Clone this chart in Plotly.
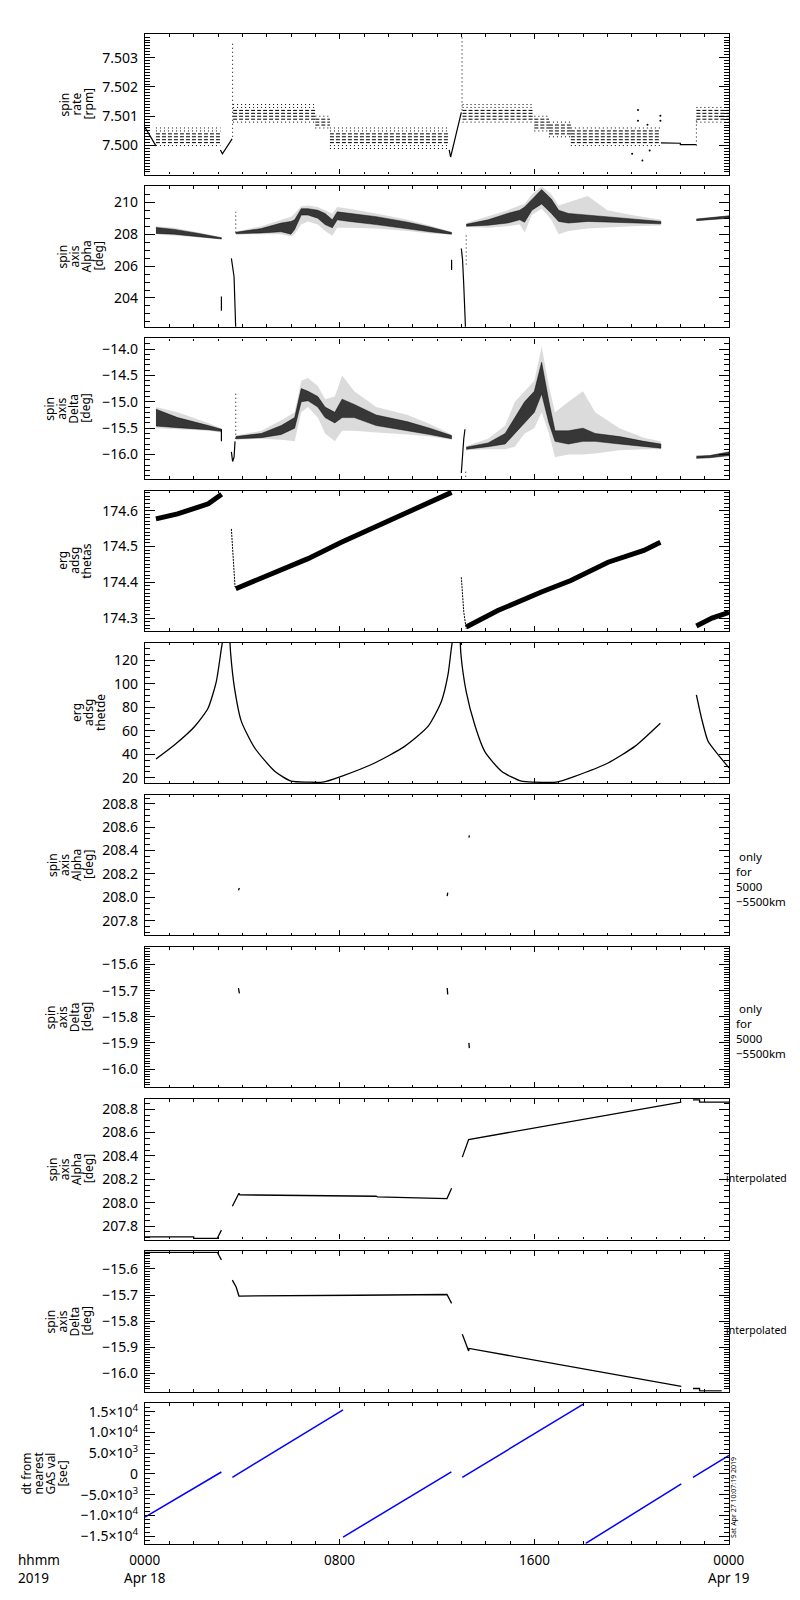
import plotly.graph_objects as go

# ---------------- data (hours since 2019-04-18 00:00) ----------------
# Panel 1: spin rate [rpm] -- quantised bands (levels) and single lines
p1_band_t0 = [0.45, 3.62, 7.0, 7.6, 13.05, 16.0, 16.6, 17.5, 22.66]
p1_band_t1 = [3.1, 7.0, 7.6, 12.5, 16.0, 16.6, 17.5, 21.2, 24.0]
p1_band_dense = [[7.5001, 7.5002, 7.5003, 7.5004], [7.5009, 7.5010, 7.5011, 7.5012],
                 [7.5007, 7.5008, 7.5009], [7.5001, 7.5002, 7.5003, 7.5004],
                 [7.5009, 7.5010, 7.5011, 7.5012], [7.5006, 7.5007, 7.5008, 7.5009],
                 [7.5004, 7.5005, 7.5006, 7.5007], [7.5001, 7.5002, 7.5003, 7.5004, 7.5005],
                 [7.5009, 7.5010, 7.5011, 7.5012]]
p1_band_sparse = [[7.5000, 7.5005, 7.5006], [7.5008, 7.5013, 7.5014], [7.5006, 7.5010],
                  [7.4999, 7.5000, 7.5005, 7.5006], [7.5008, 7.5013, 7.5014], [7.5005, 7.5010],
                  [7.5003, 7.5008], [7.5000, 7.5006], [7.5008, 7.5013]]
p1_seg_t = [[0.0, 0.45], [3.1, 3.18, 3.58], [12.5, 12.56, 13.0], [21.2, 22.0, 22.0, 22.66]]
p1_seg_v = [[7.50062, 7.49999], [7.49985, 7.49972, 7.50023], [7.49985, 7.49961, 7.50113],
            [7.50009, 7.50008, 7.50003, 7.50003]]
p1_spike_t = [3.60, 13.03, 22.66]
p1_spike_lo = [7.5003, 7.5012, 7.5000]
p1_spike_hi = [7.50351, 7.50374, 7.5009]
p1_out_t = [20.26, 20.26, 20.02, 20.44, 20.65, 21.18, 20.74, 21.18]
p1_out_v = [7.50121, 7.50085, 7.49972, 7.49949, 7.50071, 7.50102, 7.49983, 7.50085]

# Panel 2: spin axis Alpha [deg] -- scatter cloud as core / halo envelopes
p2_t = [[0.45, 1.2, 2.2, 3.14],
        [3.73, 4.78, 5.6, 6.0, 6.15, 6.42, 6.7, 7.1, 7.4, 7.7, 7.9, 8.4, 9.5, 10.8, 11.7, 12.6],
        [13.2, 14.1, 14.9, 15.4, 15.6, 15.9, 16.3, 16.7, 17.0, 17.4, 18.2, 19.0, 20.0, 21.2],
        [22.66, 24.0]]
p2_lo = [[208.05, 208.0, 207.85, 207.7],
         [208.02, 208.08, 208.15, 208.0, 208.3, 209.2, 209.2, 209.0, 208.6, 208.4, 208.9, 208.8, 208.6, 208.35, 208.15, 208.0],
         [208.5, 208.56, 208.7, 208.9, 208.75, 209.5, 209.9, 209.3, 208.8, 208.7, 208.8, 208.75, 208.7, 208.65],
         [208.85, 209.0]]
p2_hi = [[208.42, 208.3, 208.05, 207.78],
         [208.12, 208.35, 208.7, 208.8, 208.9, 209.6, 209.6, 209.5, 209.3, 208.9, 209.4, 209.3, 209.1, 208.75, 208.45, 208.1],
         [208.62, 208.9, 209.3, 209.5, 209.7, 210.2, 210.8, 210.2, 209.5, 209.3, 209.2, 209.1, 208.95, 208.8],
         [208.95, 209.15]]
p2_halo_lo = [[208.0, 207.95, 207.8, 207.68],
              [208.0, 208.0, 208.0, 207.85, 208.0, 208.6, 208.8, 208.6, 208.2, 207.9, 208.4, 208.4, 208.35, 208.2, 208.05, 207.98],
              [208.45, 208.4, 208.5, 208.6, 208.1, 209.2, 209.6, 208.9, 208.0, 208.2, 208.35, 208.4, 208.5, 208.55],
              [208.83, 208.98]]
p2_halo_hi = [[208.5, 208.4, 208.1, 207.8],
              [208.15, 208.5, 208.9, 209.1, 209.3, 209.75, 209.8, 209.7, 209.5, 209.3, 209.7, 209.6, 209.3, 208.9, 208.55, 208.15],
              [208.7, 209.1, 209.5, 209.8, 209.9, 210.5, 211.0, 210.5, 209.8, 210.0, 210.4, 209.5, 209.2, 208.9],
              [208.97, 209.17]]
p2_lines_t = [[3.14, 3.14], [3.55, 3.66, 3.73], [12.6, 12.6], [13.0, 13.05, 13.1, 13.15, 13.2]]
p2_lines_v = [[203.2, 204.1], [206.48, 205.33, 202.0], [205.75, 206.4], [207.1, 206.4, 204.8, 202.3, 201.0]]
p2_dots_t = [3.73, 13.2]
p2_dots_lo = [208.1, 206.1]
p2_dots_hi = [209.4, 208.0]

# Panel 3: spin axis Delta [deg]
p3_t = [[0.45, 1.34, 2.6, 3.14],
        [3.73, 4.78, 5.6, 6.15, 6.42, 6.7, 7.1, 7.4, 7.8, 8.1, 8.6, 9.5, 10.8, 11.7, 12.6],
        [13.2, 14.1, 14.8, 15.2, 15.6, 16.0, 16.3, 16.6, 16.85, 17.4, 18.0, 18.5, 19.5, 20.5, 21.2],
        [22.66, 23.2, 24.0]]
p3_lo = [[-15.46, -15.49, -15.53, -15.56],
         [-15.70, -15.68, -15.62, -15.5, -15.0, -14.98, -15.1, -15.3, -15.4, -15.3, -15.3, -15.45, -15.55, -15.62, -15.70],
         [-15.9, -15.85, -15.8, -15.6, -15.4, -15.2, -14.85, -15.4, -15.75, -15.8, -15.75, -15.75, -15.8, -15.85, -15.88],
         [-16.07, -16.06, -16.02]]
p3_hi = [[-15.14, -15.3, -15.45, -15.52],
         [-15.66, -15.6, -15.45, -15.3, -14.75, -14.8, -14.9, -15.1, -15.2, -14.95, -15.05, -15.25, -15.38, -15.5, -15.64],
         [-15.86, -15.78, -15.6, -15.3, -15.0, -14.8, -14.25, -15.0, -15.55, -15.55, -15.5, -15.6, -15.66, -15.75, -15.8],
         [-16.03, -16.02, -15.95]]
p3_halo_lo = [[-15.5, -15.52, -15.55, -15.58],
              [-15.72, -15.7, -15.72, -15.75, -15.2, -15.1, -15.3, -15.6, -15.75, -15.55, -15.55, -15.58, -15.62, -15.66, -15.72],
              [-15.92, -15.9, -15.9, -15.85, -15.6, -15.5, -15.2, -15.6, -16.05, -16.0, -16.0, -15.98, -15.92, -15.9, -15.9],
              [-16.08, -16.07, -16.03]]
p3_halo_hi = [[-15.1, -15.2, -15.4, -15.5],
              [-15.64, -15.55, -15.35, -15.2, -14.6, -14.55, -14.7, -14.95, -14.9, -14.5, -14.8, -15.1, -15.25, -15.42, -15.62],
              [-15.84, -15.7, -15.45, -15.0, -14.8, -14.6, -13.95, -14.7, -15.2, -15.0, -14.8, -15.2, -15.5, -15.68, -15.75],
              [-16.02, -16.01, -15.94]]
p3_lines_t = [[3.14, 3.14], [3.55, 3.6, 3.66, 3.7], [13.0, 13.03, 13.1, 13.15]]
p3_lines_v = [[-15.52, -15.75], [-15.95, -16.13, -16.05, -15.75], [-16.35, -16.1, -15.7, -15.52]]
p3_dots_t = [3.73, 13.18]
p3_dots_lo = [-15.7, -16.42]
p3_dots_hi = [-14.8, -16.3]

# Panel 4: erg adsg thetas
p4_t = [[0.45, 1.34, 2.6, 3.15], [3.73, 5.33, 6.7, 8.07, 10.67, 12.6],
        [13.2, 14.5, 16.29, 17.5, 19.03, 20.5, 21.18], [22.66, 23.3, 24.0]]
p4_v = [[174.577, 174.591, 174.619, 174.646], [174.382, 174.428, 174.466, 174.512, 174.591, 174.651],
        [174.275, 174.321, 174.373, 174.405, 174.456, 174.489, 174.512], [174.278, 174.300, 174.316]]
p4_drop_t = [[3.55, 3.62, 3.7], [13.0, 13.1, 13.2]]
p4_drop_v = [[174.549, 174.466, 174.387], [174.414, 174.317, 174.27]]

# Panel 5: erg adsg thetde
p5_t = [[0.45, 1.22, 2.04, 2.59, 2.93, 3.14, 3.22],
        [3.48, 3.52, 3.68, 3.96, 4.51, 5.33, 6.01, 6.7, 7.3, 8.07, 9.44, 10.67, 11.63, 12.18, 12.45, 12.59, 12.66],
        [12.95, 12.98, 13.2, 13.55, 13.96, 14.65, 15.47, 16.0, 16.9, 17.66, 19.03, 20.13, 21.18],
        [22.66, 22.87, 23.14, 23.55, 24.0]]
p5_v = [[36.0, 48.1, 63.6, 79.1, 101.7, 129.9, 140.0],
        [140.0, 125.6, 96.0, 67.9, 45.3, 25.6, 17.1, 16.3, 16.3, 21.3, 32.6, 46.7, 63.6, 84.8, 107.3, 130.0, 140.0],
        [140.0, 125.6, 93.2, 65.0, 42.5, 25.6, 17.1, 16.3, 16.3, 21.3, 32.6, 46.7, 66.4],
        [90.4, 70.7, 51.0, 39.7, 28.4]]

# Panel 6 / 7: only for 5000-5500 km
p6_t = [[3.84, 3.88], [12.42, 12.44], [13.31, 13.33]]
p6_v = [[208.06, 208.08], [208.01, 208.04], [208.51, 208.53]]
p7_t = [[3.84, 3.88], [12.42, 12.44], [13.31, 13.33]]
p7_v = [[-15.69, -15.71], [-15.69, -15.715], [-15.90, -15.92]]

# Panel 8 / 9: interpolated
p8_t = [[0.0, 2.0, 2.0, 2.97, 3.14],
        [3.59, 3.86, 3.9, 6.7, 6.75, 9.5, 9.55, 12.41, 12.6],
        [13.04, 13.3, 22.04], [22.52, 22.79, 22.79, 24.0]]
p8_v = [[207.708, 207.708, 207.694, 207.694, 207.765],
        [207.97, 208.08, 208.067, 208.064, 208.058, 208.055, 208.05, 208.035, 208.124],
        [208.39, 208.54, 208.86], [208.88, 208.88, 208.86, 208.86]]
p9_t = [[0.0, 2.97, 3.14], [3.59, 3.75, 3.86, 8.7, 8.75, 12.41, 12.6],
        [13.04, 13.3, 13.32, 22.04], [22.52, 22.79, 22.79, 23.7]]
p9_v = [[-15.536, -15.536, -15.565], [-15.643, -15.67, -15.704, -15.703, -15.701, -15.698, -15.732],
        [-15.851, -15.915, -15.905, -16.051], [-16.059, -16.059, -16.068, -16.068]]

# Panel 10: dt from nearest GAS val [sec]
p10_t = [[0.0, 3.14], [3.59, 8.14], [8.14, 12.59], [13.04, 18.03], [18.11, 22.04], [22.52, 24.0]]
p10_v = [[-10417, 480], [-816, 15430], [-15216, 480], [-816, 16876], [-16740, -2400], [-816, 4465]]
p10_tickvals = [-15000, -10000, -5000, 0, 5000, 10000, 15000]
p10_ticktext = ["\u22121.5\u00d710<sup>4</sup>", "\u22121.0\u00d710<sup>4</sup>", "\u22125.0\u00d710<sup>3</sup>",
                "0", "5.0\u00d710<sup>3</sup>", "1.0\u00d710<sup>4</sup>", "1.5\u00d710<sup>4</sup>"]

# axis settings per panel
y_ranges = [[7.49901, 7.5038], [202.2, 211.0], [-16.46, -13.80], [174.264, 174.656], [15.5, 134.7],
            [207.675, 208.877], [-16.07, -15.533], [207.685, 208.886], [-16.071, -15.532], [-16824, 17016]]
y_dtick = [0.001, 2, 0.5, 0.1, 20, 0.2, 0.1, 0.2, 0.1, 5000]
y_tick0 = [7.5, 200, -16, 174, 0, 207.8, -16, 207.8, -16, 0]
y_minor = [0.0001, 0.5, 0.1, 0.01, 5, 0.05, 0.01, 0.05, 0.01, 1000]
y_fmt = [".3f", "d", ".1f", ".1f", "d", ".1f", ".1f", ".1f", ".1f", None]
y_titles = [["spin", "rate", "[rpm]"], ["spin", "axis", "Alpha", "[deg]"], ["spin", "axis", "Delta", "[deg]"],
            ["erg", "adsg", "thetas"], ["erg", "adsg", "thetde"], ["spin", "axis", "Alpha", "[deg]"],
            ["spin", "axis", "Delta", "[deg]"], ["spin", "axis", "Alpha", "[deg]"],
            ["spin", "axis", "Delta", "[deg]"], ["dt from", "nearest", "GAS val", "[sec]"]]
y_title_cx = [68, 73, 60, 67, 81, 62, 60, 62, 60, 37]
x_tick_labels = [(0, "0000<br>Apr 18"), (8, "0800"), (16, "1600"), (24, "0000<br>Apr 19")]
note_only = " only<br>for<br>5000<br>\u22125500km"

# ---------------- layout geometry ----------------
W, H = 800, 1600
X0, X1 = 137, 721
TOP0, PITCH, PH = 23.3, 152.8, 141.0
FONT = "Noto Sans"

fig = go.Figure()


def ax(i):
    return ("x" if i == 0 else f"x{i+1}"), ("y" if i == 0 else f"y{i+1}")


def add(i, x, y, **kw):
    xa, ya = ax(i)
    kw.setdefault("mode", "lines")
    fig.add_trace(go.Scatter(x=x, y=y, xaxis=xa, yaxis=ya, hoverinfo="skip", showlegend=False, **kw))


BLACK = "black"

# Panel 1
for t0, t1, dense, sparse in zip(p1_band_t0, p1_band_t1, p1_band_dense, p1_band_sparse):
    for lv in dense:
        add(0, [t0, t1], [lv, lv], line=dict(color=BLACK, width=1, dash="4px,2px"))
    for lv in sparse:
        add(0, [t0, t1], [lv, lv], line=dict(color=BLACK, width=1, dash="1px,3px"))
for t, v in zip(p1_seg_t, p1_seg_v):
    add(0, t, v, line=dict(color=BLACK, width=1.2))
for t, lo, hi in zip(p1_spike_t, p1_spike_lo, p1_spike_hi):
    add(0, [t, t], [lo, hi], line=dict(color=BLACK, width=1, dash="1px,3px"))
add(0, p1_out_t, p1_out_v, mode="markers", marker=dict(color=BLACK, size=2))

# Panels 2 and 3 (scatter clouds)
for i, (T, LO, HI, HLO, HHI) in [(1, (p2_t, p2_lo, p2_hi, p2_halo_lo, p2_halo_hi)),
                                 (2, (p3_t, p3_lo, p3_hi, p3_halo_lo, p3_halo_hi))]:
    for t, lo, hi, hlo, hhi in zip(T, LO, HI, HLO, HHI):
        add(i, t + t[::-1], hhi + hlo[::-1], fill="toself", fillcolor="rgba(0,0,0,0.14)",
            line=dict(width=0))
        add(i, t + t[::-1], hi + lo[::-1], fill="toself", fillcolor="rgba(0,0,0,0.75)",
            line=dict(width=0.6, color="rgba(0,0,0,0.75)"))
for t, v in zip(p2_lines_t, p2_lines_v):
    add(1, t, v, line=dict(color=BLACK, width=1.2))
for t, lo, hi in zip(p2_dots_t, p2_dots_lo, p2_dots_hi):
    add(1, [t, t], [lo, hi], line=dict(color=BLACK, width=1, dash="1px,3px"))
for t, v in zip(p3_lines_t, p3_lines_v):
    add(2, t, v, line=dict(color=BLACK, width=1.2))
for t, lo, hi in zip(p3_dots_t, p3_dots_lo, p3_dots_hi):
    add(2, [t, t], [lo, hi], line=dict(color=BLACK, width=1, dash="1px,3px"))

# Panel 4
for t, v in zip(p4_t, p4_v):
    add(3, t, v, line=dict(color=BLACK, width=5))
for t, v in zip(p4_drop_t, p4_drop_v):
    add(3, t, v, line=dict(color=BLACK, width=1, dash="2px,1px"))

# Panel 5
for t, v in zip(p5_t, p5_v):
    add(4, t, v, line=dict(color=BLACK, width=1.3, shape="spline", smoothing=0.6))

# Panels 6-9
for i, T, V in [(5, p6_t, p6_v), (6, p7_t, p7_v), (7, p8_t, p8_v), (8, p9_t, p9_v)]:
    for t, v in zip(T, V):
        add(i, t, v, line=dict(color=BLACK, width=1.3))

# Panel 10
for t, v in zip(p10_t, p10_v):
    add(9, t, v, line=dict(color="#0000ff", width=1.5))

# ---------------- axes ----------------
layout = dict(width=W, height=H, margin=dict(l=0, r=0, t=0, b=0),
              paper_bgcolor="white", plot_bgcolor="white", showlegend=False,
              font=dict(family=FONT, size=14, color=BLACK))
annotations = []
for i in range(10):
    top = TOP0 + PITCH * i
    bot = top + PH
    xkey = "xaxis" if i == 0 else f"xaxis{i+1}"
    ykey = "yaxis" if i == 0 else f"yaxis{i+1}"
    xa, ya = ax(i)
    layout[xkey] = dict(domain=[X0 / W, X1 / W], anchor=ya, range=[0, 24], showgrid=False, zeroline=False,
                        showline=True, linecolor=BLACK, linewidth=1.2, mirror="ticks",
                        ticks="inside", tickmode="linear", tick0=0, dtick=8, ticklen=5, tickwidth=1,
                        tickcolor=BLACK, showticklabels=False,
                        minor=dict(ticks="inside", tickmode="linear", tick0=0, dtick=1, ticklen=2.5,
                                   tickwidth=1, tickcolor=BLACK, showgrid=False))
    yd = dict(domain=[1 - bot / H, 1 - top / H], anchor=xa, range=y_ranges[i], showgrid=False,
              zeroline=False, showline=True, linecolor=BLACK, linewidth=1.2, mirror="ticks",
              ticks="inside", ticklen=10, tickwidth=1, tickcolor=BLACK, ticklabelstandoff=3,
              tickfont=dict(family=FONT, size=14, color=BLACK),
              minor=dict(ticks="inside", tickmode="linear", tick0=y_tick0[i], dtick=y_minor[i],
                         ticklen=5, tickwidth=1, tickcolor=BLACK, showgrid=False))
    if i == 9:
        yd.update(tickmode="array", tickvals=p10_tickvals, ticktext=p10_ticktext)
    else:
        yd.update(tickmode="linear", tick0=y_tick0[i], dtick=y_dtick[i], tickformat=y_fmt[i])
    layout[ykey] = yd

    # y title lines (stacked, rotated)
    lines = y_titles[i]
    n = len(lines)
    cy = (top + bot) / 2
    for k, s in enumerate(lines):
        cx = y_title_cx[i] + (k - (n - 1) / 2) * 12
        annotations.append(dict(text=s, x=cx / W, y=1 - cy / H, xref="paper", yref="paper",
                                showarrow=False, textangle=-90, xanchor="center", yanchor="middle",
                                font=dict(family=FONT, size=12, color=BLACK)))

# x tick labels under the last panel
for h, lab in x_tick_labels:
    px = X0 + (X1 - X0) * h / 24
    annotations.append(dict(text=lab, x=px / W, y=1 - 1545 / H, xref="paper", yref="paper",
                            showarrow=False, xanchor="center", yanchor="top",
                            font=dict(family=FONT, size=13.5, color=BLACK)))
annotations.append(dict(text="hhmm<br>2019", x=8 / W, y=1 - 1545 / H, xref="paper", yref="paper",
                        showarrow=False, xanchor="left", yanchor="top", align="left",
                        font=dict(family=FONT, size=13.5, color=BLACK)))

# right-side notes
for yy in [872, 1024]:
    annotations.append(dict(text=note_only, x=726 / W, y=1 - yy / H, xref="paper", yref="paper",
                            showarrow=False, xanchor="left", yanchor="middle", align="left",
                            font=dict(family=FONT, size=11.5, color=BLACK)))
for yy in [1171.7, 1324.3]:
    annotations.append(dict(text="interpolated", x=717 / W, y=1 - yy / H, xref="paper", yref="paper",
                            showarrow=False, xanchor="left", yanchor="middle", borderpad=0,
                            font=dict(family=FONT, size=10.5, color=BLACK)))
annotations.append(dict(text="Sat Apr 27 10:07:19 2019", x=726 / W, y=1 - 1493.5 / H, xref="paper",
                        yref="paper", showarrow=False, textangle=-90, xanchor="center", yanchor="middle",
                        font=dict(family=FONT, size=7, color=BLACK)))

layout["annotations"] = annotations
fig.update_layout(**layout)
fig.write_html("out.html")
